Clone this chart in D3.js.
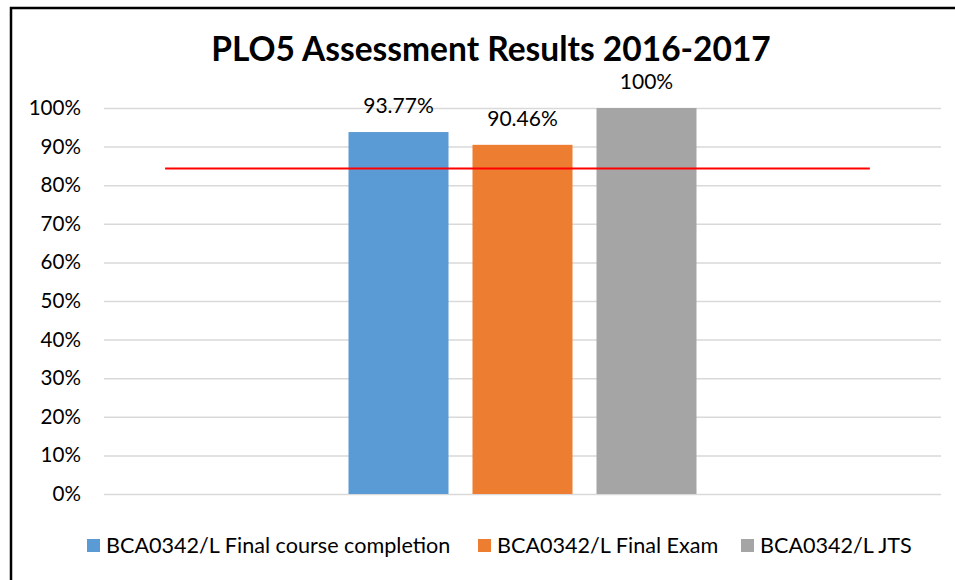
<!DOCTYPE html>
<html>
<head>
<meta charset="utf-8">
<script src="https://cdn.jsdelivr.net/npm/d3@7"></script>
<style>
  html, body { margin: 0; padding: 0; background: #fff; }
  svg { display: block; font-family: Lato, "Open Sans", sans-serif; }
</style>
</head>
<body>
<div id="chart"></div>
<script>
const TITLE = "PLO5 Assessment Results 2016-2017";
const categories = ["PLO5"];
const seriesNames = [
    "BCA0342/L Final course completion",
    "BCA0342/L Final Exam",
    "BCA0342/L JTS"
];
const seriesValues = [93.77, 90.46, 100];
const valueLabels = ["93.77%", "90.46%", "100%"];
const seriesColors = ["#5b9bd5", "#ed7d31", "#a5a5a5"];
const yTicks = [0, 10, 20, 30, 40, 50, 60, 70, 80, 90, 100];
const targetValue = 84.3;
// red target line spans this share of the plot width
const targetSpan = [0.073, 0.915];

const W = 955, H = 580;
const margin = { top: 108, right: 14, bottom: 86, left: 104 };
const plotW = W - margin.left - margin.right;
const plotH = H - margin.top - margin.bottom;

const svg = d3.select("#chart").append("svg")
    .attr("width", W)
    .attr("height", H);

// chart frame (runs off the right and bottom edge)
svg.append("rect")
    .attr("x", 11).attr("y", 8)
    .attr("width", W + 20).attr("height", H + 20)
    .attr("fill", "#fff")
    .attr("stroke", "#000")
    .attr("stroke-width", 2.5);

svg.append("text")
    .attr("x", 491).attr("y", 61)
    .attr("text-anchor", "middle")
    .style("font-size", "33.5px")
    .style("font-weight", "bold")
    .attr("fill", "#000")
    .text(TITLE);

const g = svg.append("g").attr("transform", `translate(${margin.left},${margin.top})`);

const y = d3.scaleLinear().domain([0, 100]).range([plotH, 0]);
const x0 = d3.scaleBand().domain(categories).range([0, plotW]).paddingInner(0).paddingOuter(0.7026);
const x1 = d3.scaleBand().domain(seriesNames).range([0, x0.bandwidth()]).paddingInner(24 / 124);

// gridlines + tick labels
const yAxis = g.append("g")
    .call(d3.axisLeft(y).tickValues(yTicks).tickSize(-plotW).tickFormat(d => d + "%").tickPadding(23));
yAxis.select(".domain").remove();
yAxis.selectAll(".tick line").attr("stroke", "#d9d9d9").attr("stroke-width", 1.5);
yAxis.selectAll(".tick text")
    .attr("fill", "#000")
    .style("font-size", "20.6px")
    .style("font-family", "Lato, 'Open Sans', sans-serif");

// bars
const data = seriesNames.map((s, i) => ({ name: s, value: seriesValues[i], label: valueLabels[i], color: seriesColors[i] }));
const grp = g.append("g").attr("transform", `translate(${x0(categories[0])},0)`);
grp.selectAll("rect").data(data).join("rect")
    .attr("x", d => x1(d.name))
    .attr("y", d => y(d.value))
    .attr("width", x1.bandwidth())
    .attr("height", d => plotH - y(d.value))
    .attr("fill", d => d.color);

grp.selectAll("text.lbl").data(data).join("text")
    .attr("class", "lbl")
    .attr("x", d => x1(d.name) + x1.bandwidth() / 2)
    .attr("y", d => y(d.value) - 19)
    .attr("text-anchor", "middle")
    .attr("fill", "#000")
    .style("font-size", "21px")
    .text(d => d.label);

// target line
const xs = d3.scaleLinear().domain([0, 1]).range([0, plotW]);
g.append("line")
    .attr("x1", xs(targetSpan[0])).attr("x2", xs(targetSpan[1]))
    .attr("y1", y(targetValue)).attr("y2", y(targetValue))
    .attr("stroke", "#ff0000")
    .attr("stroke-width", 2);

// legend
const legendX = [87, 478, 741];
const legend = svg.append("g").attr("transform", "translate(0,539)");
data.forEach((d, i) => {
    const item = legend.append("g").attr("transform", `translate(${legendX[i]},0)`);
    item.append("rect").attr("width", 13).attr("height", 13).attr("fill", d.color);
    item.append("text")
        .attr("x", 19).attr("y", 13.5)
        .attr("fill", "#000")
        .style("font-size", "21.6px")
        .text(d.name);
});
</script>
</body>
</html>
